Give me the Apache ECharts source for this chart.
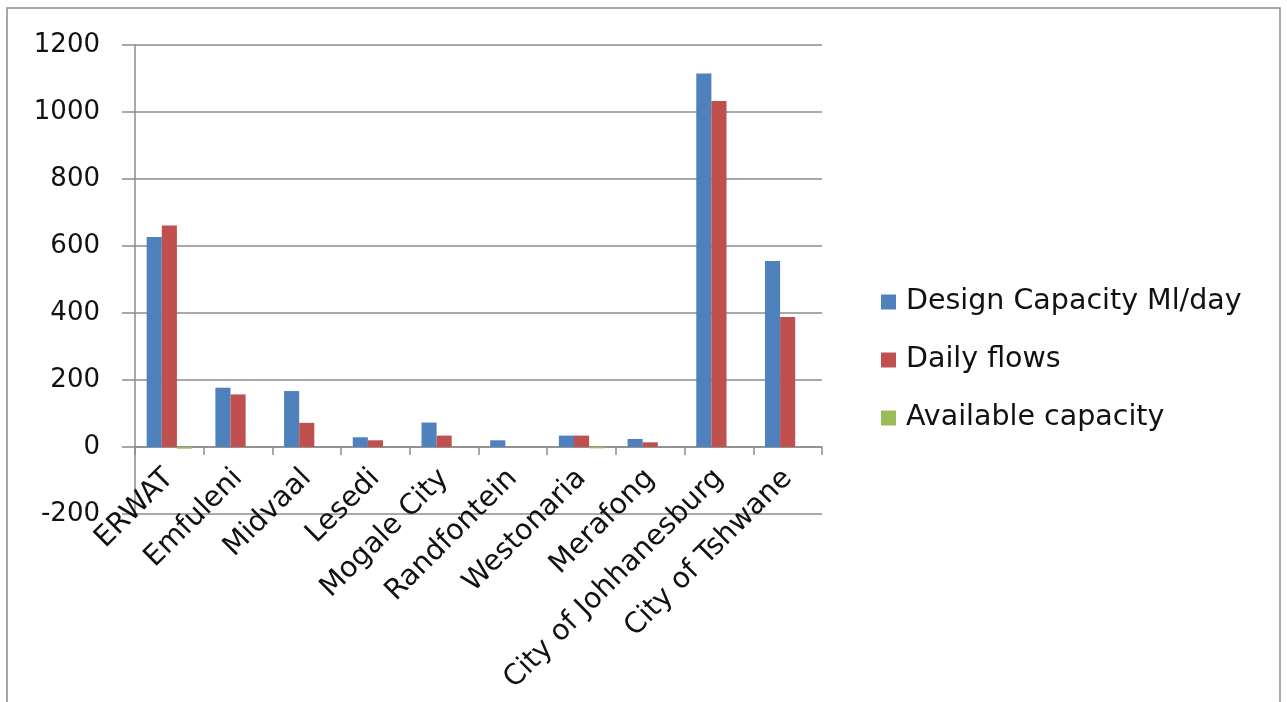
<!DOCTYPE html>
<html><head><meta charset="utf-8">
<script src="https://cdn.jsdelivr.net/npm/echarts@6/dist/echarts.min.js"></script>
<style>html,body{margin:0;padding:0;background:#fff}#c{width:1287px;height:702px}</style>
</head><body><div id="c"></div>
<script>
const categories = ["ERWAT","Emfuleni","Midvaal","Lesedi","Mogale City","Randfontein","Westonaria","Merafong","City of Johhanesburg","City of Tshwane"];
const designCapacity = [627,177,167,29,73,20,34,24,1115,555];
const dailyFlows = [661,157,72,20,34,0,34,14,1033,388];
const availableCapacity = [-5,0,0,0,0,0,-4,0,0,0];
const yTicks = {min:-200,max:1200,interval:200};

const chart = echarts.init(document.getElementById('c'));
const font = 'DejaVu Sans';
const barStyle = c => ({color:c, borderWidth:0});
chart.setOption({
  animation:false,
  graphic:[{type:'rect',shape:{x:7,y:8,width:1273,height:720},style:{fill:'none',stroke:'#8c8c8c',lineWidth:1.5},silent:true}],
  grid:{left:135,right:465,top:45,bottom:188,outerBoundsMode:'none',containLabel:false},
  legend:{orient:'vertical',left:876,top:282,itemWidth:15,itemHeight:15,itemGap:28,
    icon:'rect',
    textStyle:{fontFamily:font,fontSize:28.5,lineHeight:30,color:'#111',padding:[0,0,0,5]},
    data:['Design Capacity Ml/day','Daily flows','Available capacity']},
  xAxis:{type:'category',data:categories,
    axisLine:{onZero:true,lineStyle:{color:'#8c8c8c',width:1.5}},
    axisTick:{show:true,length:8,lineStyle:{color:'#8c8c8c',width:1.5}},
    axisLabel:{rotate:45,interval:0,fontFamily:font,fontSize:28.5,color:'#111',margin:-40}},
  yAxis:{type:'value',min:yTicks.min,max:yTicks.max,interval:yTicks.interval,
    axisLine:{show:true,lineStyle:{color:'#8c8c8c',width:1.5}},
    axisTick:{show:true,length:13,lineStyle:{color:'#8c8c8c',width:1.5}},
    splitLine:{lineStyle:{color:'#8c8c8c',width:1.5}},
    axisLabel:{fontFamily:font,fontSize:26,color:'#111',margin:35,formatter:v=>String(v)}},
  series:[
    {name:'Design Capacity Ml/day',type:'bar',data:designCapacity,itemStyle:barStyle('#4F81BD'),barGap:'0%',barCategoryGap:'34%'},
    {name:'Daily flows',type:'bar',data:dailyFlows,itemStyle:barStyle('#C0504D'),barGap:'0%',barCategoryGap:'34%'},
    {name:'Available capacity',type:'bar',data:availableCapacity,itemStyle:barStyle('#9BBB59'),barGap:'0%',barCategoryGap:'34%'}
  ]
});
</script></body></html>
